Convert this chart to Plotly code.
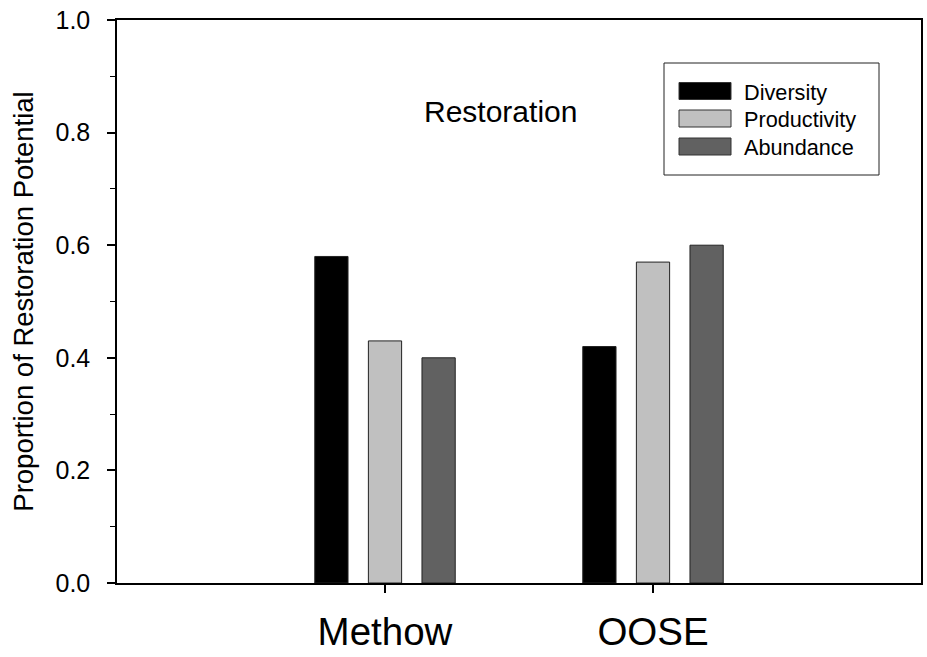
import plotly.graph_objects as go

categories = ["Methow", "OOSE"]
series_names = ["Diversity", "Productivity", "Abundance"]
diversity = [0.58, 0.42]
productivity = [0.43, 0.57]
abundance = [0.40, 0.60]
series_values = [diversity, productivity, abundance]
series_colors = ["#000000", "#c0c0c0", "#616161"]
y_ticks = [0.0, 0.2, 0.4, 0.6, 0.8, 1.0]
y_tick_labels = ["0.0", "0.2", "0.4", "0.6", "0.8", "1.0"]

FONT = "Liberation Sans, Arial, sans-serif"

fig = go.Figure()
for name, vals, col in zip(series_names, series_values, series_colors):
    fig.add_trace(go.Bar(
        x=categories, y=vals, name=name,
        marker=dict(color=col, line=dict(color="#222222", width=1)),
        showlegend=False,
    ))

# paper-coordinate helpers (screen pixels -> plot-area fraction)
PL, PT, PW, PH = 117, 20, 804, 563
def px(x):
    return (x - PL) / PW
def py(y):
    return 1 - (y - PT) / PH

# custom legend: box + swatches + text
fig.add_shape(type="rect", xref="paper", yref="paper",
              x0=px(664), x1=px(879), y0=py(63), y1=py(175),
              line=dict(color="#222222", width=1), fillcolor="white", layer="above")
row_y = [91, 118.5, 146.5]
for name, col, ry in zip(series_names, series_colors, row_y):
    fig.add_shape(type="rect", xref="paper", yref="paper",
                  x0=px(679), x1=px(731), y0=py(ry - 8.5), y1=py(ry + 8.5),
                  line=dict(color="#333333", width=1), fillcolor=col, layer="above")
    fig.add_annotation(xref="paper", yref="paper", x=px(742), y=py(ry + 1),
                       text=name, showarrow=False, xanchor="left", yanchor="middle",
                       font=dict(family=FONT, size=21.7, color="black"))

fig.add_annotation(xref="paper", yref="paper", x=px(500), y=py(111),
                   text="Restoration", showarrow=False, xanchor="center", yanchor="middle",
                   font=dict(family=FONT, size=30, color="black"))

fig.update_layout(
    width=927, height=657,
    margin=dict(l=117, r=6, t=20, b=74, autoexpand=False),
    plot_bgcolor="white", paper_bgcolor="white",
    barmode="group", bargap=0.4, bargroupgap=0.38,
    font=dict(family=FONT, color="black"),
)
fig.update_xaxes(
    range=[-1, 2], showline=True, linecolor="black", linewidth=1.5, mirror=True,
    ticks="outside", ticklen=8, tickwidth=1.5, tickcolor="black",
    tickfont=dict(family=FONT, size=38.5), showgrid=False, zeroline=False,
    ticklabelstandoff=6, automargin=False,
)
fig.update_yaxes(
    range=[0, 1], showline=True, linecolor="black", linewidth=1.5, mirror=True,
    ticks="outside", ticklen=8, tickwidth=1.5, tickcolor="black",
    tickvals=y_ticks, ticktext=y_tick_labels, ticklabeloverflow="allow",
    tickfont=dict(family=FONT, size=25), showgrid=False, zeroline=False,
    minor=dict(dtick=0.1, ticks="outside", ticklen=5, tickwidth=1.2, tickcolor="black"),
    title=dict(text="Proportion of Restoration Potential",
               font=dict(family=FONT, size=27.5), standoff=14),
    ticklabelstandoff=12, automargin=False,
)

fig.write_html(
    "out.html",
    config={"displayModeBar": False},
    post_script="document.body.style.margin='0';document.body.style.overflow='hidden';",
)
